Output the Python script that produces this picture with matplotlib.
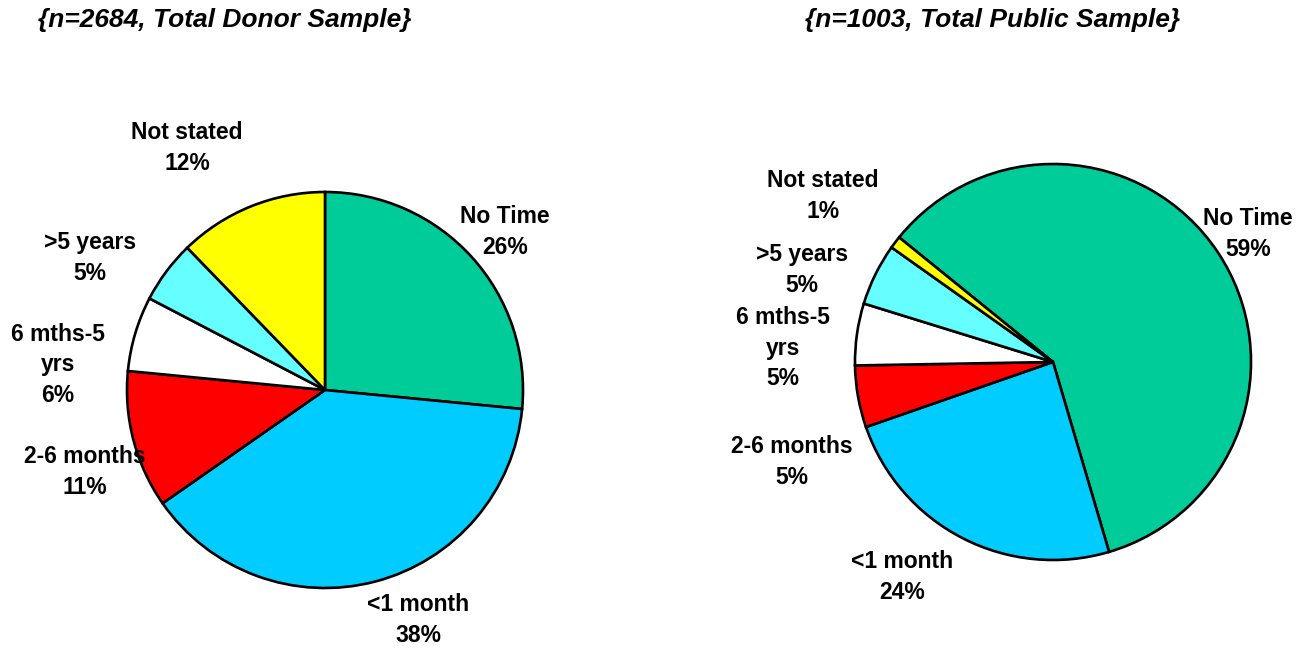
import matplotlib.pyplot as plt

plt.rcParams['font.family'] = ['Liberation Sans', 'DejaVu Sans']

categories = ['No Time', '<1 month', '2-6 months', '6 mths-5\nyrs', '>5 years', 'Not stated']
donor_pct = [26, 38, 11, 6, 5, 12]
public_pct = [59, 24, 5, 5, 5, 1]
colors = ['#00CC99', '#00CCFF', '#FF0000', '#FFFFFF', '#66FFFF', '#FFFF00']

donor_title = '{n=2684, Total Donor Sample}'
public_title = '{n=1003, Total Public Sample}'

# label anchor points (figure pixels, y measured from the top)
donor_label_xy = [(505, 232), (418, 620), (85, 472), (58, 365), (90, 258), (187, 148)]
public_label_xy = [(1248, 234), (902, 577), (792, 462), (783, 348), (802, 270), (823, 196)]

W, H = 1304, 648
fig = plt.figure(figsize=(W / 100, H / 100), dpi=100)
ax = fig.add_axes([0, 0, 1, 1])


def draw_pie(values, center, start, label_xy):
    ax.pie(values, colors=colors, startangle=start, counterclock=False,
           center=(center[0], H - center[1]), radius=198, frame=True,
           wedgeprops=dict(edgecolor='black', linewidth=1.9))
    for cat, v, (x, y) in zip(categories, values, label_xy):
        ax.text(x, H - y, f'{cat}\n{v}%', ha='center', va='center',
                fontsize=16.5, fontweight='bold', linespacing=1.43)


draw_pie(donor_pct, (325, 390), 90, donor_label_xy)
draw_pie(public_pct, (1053, 362), 141, public_label_xy)
ax.set_xlim(0, W)
ax.set_ylim(0, H)
ax.set_aspect('equal')
ax.axis('off')

fig.text(38 / W, 1 - 20 / H, donor_title, ha='left', va='center',
         fontsize=19, fontweight='bold', fontstyle='italic')
fig.text(805 / W, 1 - 20 / H, public_title, ha='left', va='center',
         fontsize=19, fontweight='bold', fontstyle='italic')

fig.savefig('out.png', dpi=100)
